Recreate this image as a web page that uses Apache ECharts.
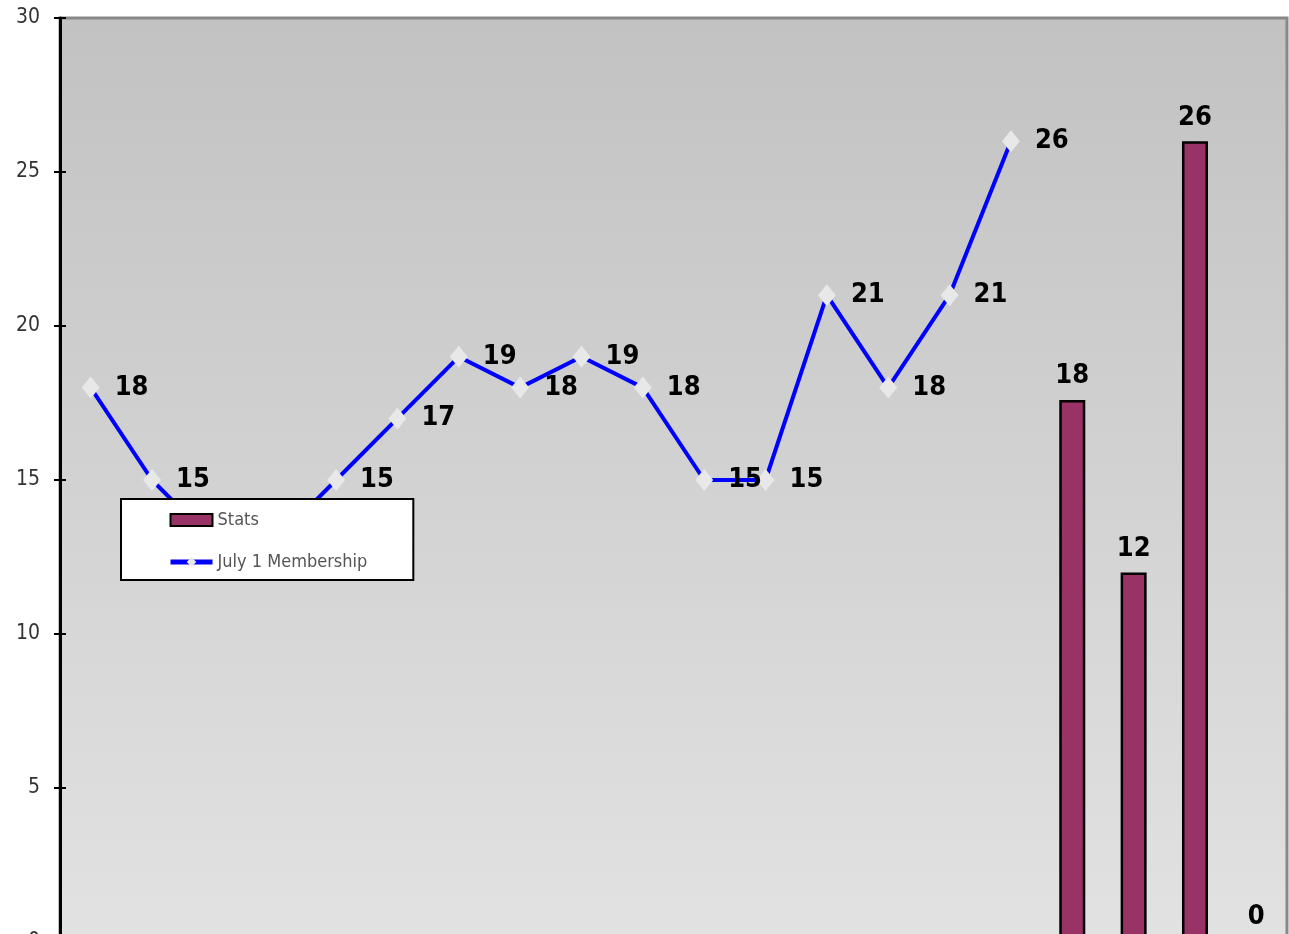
<!DOCTYPE html>
<html>
	<head>
		<meta charset="UTF-8">
		<title>July 1 Membership</title>
		<style>
		html,body{margin:0;padding:0;background:#fff;}
		#main{width:1289px;height:934px;}
		</style>
	</head>
	<body>
		<div id="main"></div>

<script src="https://cdn.jsdelivr.net/npm/echarts@6/dist/echarts.min.js"></script>
<script type="text/javascript">
	// 数据
	var categories = ['1','2','3','4','5','6','7','8','9','10','11','12','13','14','15','16','17','18','19','20'];
	var membership = [18, 15, 13, 13, 15, 17, 19, 18, 19, 18, 15, 15, 21, 18, 21, 26, null, null, null, null];
	var stats = [null, null, null, null, null, null, null, null, null, null, null, null, null, null, null, null, 17.6, 12, 26, 0];
	var yTicks = [0, 5, 10, 15, 20, 25, 30];

	var narrow = '"Liberation Sans Narrow", "DejaVu Sans Condensed", Arial, sans-serif';

	var chart = echarts.init(document.getElementById('main'));

	var option = {
		backgroundColor: '#fff',
		animation: false,
		grid: {
			left: 60,
			top: 18,
			width: 1227,
			height: 924,
			outerBoundsMode: 'none',
			containLabel: false,
			show: true,
			borderColor: '#888',
			borderWidth: 3,
			backgroundColor: new echarts.graphic.LinearGradient(0, 0, 0, 1, [
				{offset: 0, color: '#c2c2c2'},
				{offset: 1, color: '#e2e2e2'}
			])
		},
		legend: {
			left: 121,
			top: 499,
			orient: 'vertical',
			z: 10,
			backgroundColor: '#fff',
			borderColor: '#000',
			borderWidth: 2,
			borderRadius: 0,
			padding: [12, 46, 9, 47],
			itemWidth: 42,
			itemHeight: 12,
			itemGap: 24,
			lineStyle: {width: 5},
			textStyle: {fontFamily: narrow, fontSize: 18, color: '#555'},
			data: [{name: 'Stats', icon: 'rect'}, {name: 'July 1 Membership'}]
		},
		xAxis: {
			type: 'category',
			data: categories,
			show: false
		},
		yAxis: [{
			type: 'value',
			min: yTicks[0],
			max: yTicks[yTicks.length - 1],
			interval: 5,
			splitLine: {show: false},
			axisLine: {show: true, lineStyle: {color: '#000', width: 3}},
			axisTick: {show: true, length: 6, lineStyle: {color: '#000', width: 2}},
			axisLabel: {fontFamily: narrow, fontSize: 21, color: '#333', margin: 20}
		}, {
			// 刻度穿过轴线的另一半
			type: 'value',
			position: 'left',
			min: yTicks[0],
			max: yTicks[yTicks.length - 1],
			interval: 5,
			splitLine: {show: false},
			axisLine: {show: false},
			axisLabel: {show: false},
			axisTick: {show: true, inside: true, length: 6, lineStyle: {color: '#000', width: 2}}
		}],
		series: [{
			name: 'Stats',
			type: 'bar',
			data: stats,
			barWidth: 26,
			itemStyle: {color: '#993366', borderColor: '#000', borderWidth: 2.5},
			label: {
				show: true,
				position: 'top',
				distance: 10,
				fontFamily: narrow,
				fontSize: 27,
				fontWeight: 'bold',
				color: '#000',
				formatter: function(p){ return Math.round(p.value); }
			}
		}, {
			name: 'July 1 Membership',
			type: 'line',
			data: membership,
			symbol: 'diamond',
			symbolSize: [18, 22],
			itemStyle: {color: '#e8e8e8'},
			lineStyle: {color: '#0000ff', width: 4},
			label: {
				show: true,
				position: 'right',
				distance: 15,
				fontFamily: narrow,
				fontSize: 27,
				fontWeight: 'bold',
				color: '#000'
			},
			z: 3
		}]
	};

	chart.setOption(option);
</script>
	</body>
</html>
